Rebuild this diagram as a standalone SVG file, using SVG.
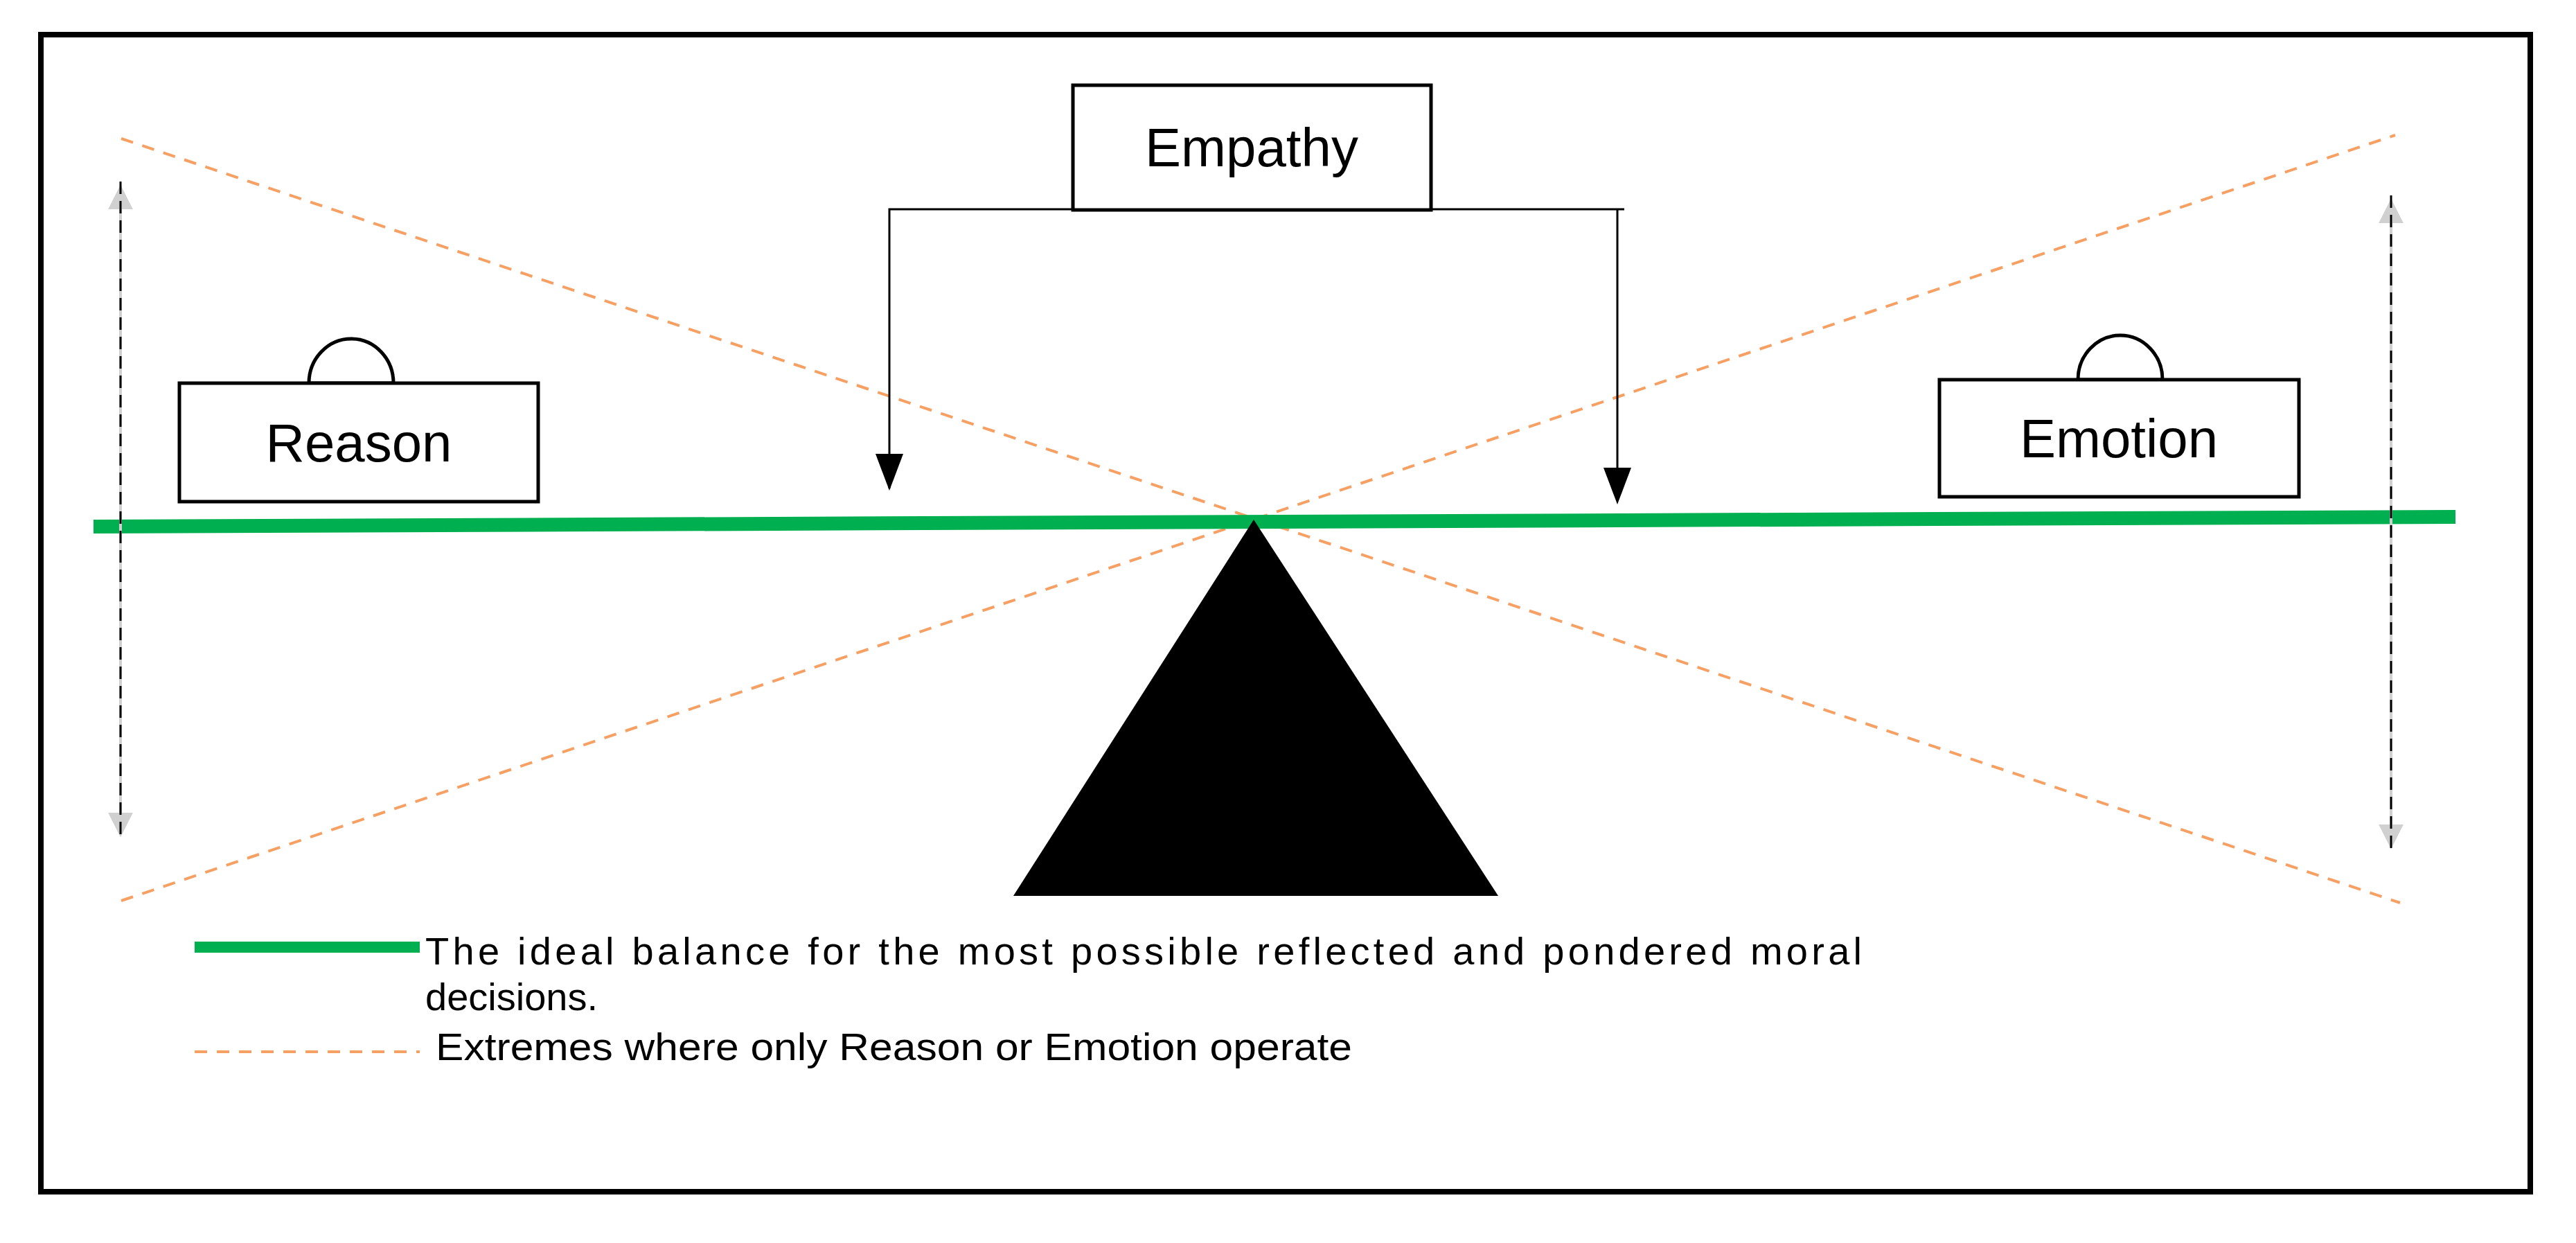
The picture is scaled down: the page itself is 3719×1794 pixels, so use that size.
<svg xmlns="http://www.w3.org/2000/svg" width="3719" height="1794" viewBox="0 0 3719 1794">
<style>
.box{fill:#fff;stroke:#000;stroke-width:5}
.lbl{font-family:"Liberation Sans",Arial,sans-serif;font-size:78px;fill:#000;text-anchor:middle}
.leg{font-family:"Liberation Sans",Arial,sans-serif;font-size:56px;fill:#000}
.ext{fill:none;stroke:#F7A064;stroke-width:4;stroke-dasharray:18 14}
.dome{fill:#fff;stroke:#000;stroke-width:5}
</style>
<defs>
<marker id="ah" viewBox="0 0 10 10" refX="9" refY="5" markerWidth="5" markerHeight="5" orient="auto" markerUnits="strokeWidth"><path d="M0,0L10,5L0,10z" fill="#000"/></marker>
<marker id="gh" viewBox="0 0 10 10" refX="9" refY="5" markerWidth="9" markerHeight="9" orient="auto-start-reverse" markerUnits="strokeWidth"><path d="M0,0L10,5L0,10z" fill="#D0D0D0"/></marker>
</defs>
<rect x="0" y="0" width="3719" height="1794" fill="#fff"/>
<rect x="59" y="50" width="3594" height="1670" fill="none" stroke="#000" stroke-width="8"/>
<g id="extremes">
<line class="ext" x1="175" y1="200" x2="3465" y2="1303"/>
<line class="ext" x1="175" y1="1300" x2="3458" y2="195"/>
</g>
<g id="ideal-line"><line x1="135" y1="760" x2="3545" y2="746" stroke="#00B050" stroke-width="20"/></g>
<g id="fulcrum"><polygon points="1810,750 1463,1293 2163,1293" fill="#000"/></g>
<g id="connectors">
<line x1="174" y1="270" x2="174" y2="1205" stroke="#D0D0D0" stroke-width="4" marker-start="url(#gh)" marker-end="url(#gh)"/>
<line x1="174" y1="262" x2="174" y2="1210" stroke="#000" stroke-width="3" stroke-dasharray="18 10"/>
<line x1="3452" y1="290" x2="3452" y2="1222" stroke="#D0D0D0" stroke-width="4" marker-start="url(#gh)" marker-end="url(#gh)"/>
<line x1="3452" y1="282" x2="3452" y2="1228" stroke="#000" stroke-width="3" stroke-dasharray="18 10"/>
<polyline points="1284,705 1284,302 2345,302" fill="none" stroke="#000" stroke-width="3"/>
<line x1="2335" y1="302" x2="2335" y2="700" stroke="#000" stroke-width="3"/>
<polygon points="1264,655 1304,655 1284,708" fill="#000"/>
<polygon points="2315,675 2355,675 2335,728" fill="#000"/>
</g>
<g id="empathy">
<rect class="box" x="1549" y="123" width="517" height="180"/>
<text class="lbl" x="1807" y="240">Empathy</text>
</g>
<g id="reason">
<path class="dome" d="M446,553 A61,64 0 0 1 568,553 Z"/>
<rect class="box" x="259" y="553" width="518" height="171"/>
<text class="lbl" x="518" y="666">Reason</text>
</g>
<g id="emotion">
<path class="dome" d="M3000,548 A61,64 0 0 1 3122,548 Z"/>
<rect class="box" x="2800" y="548" width="519" height="169"/>
<text class="lbl" x="3059" y="660">Emotion</text>
</g>
<g id="legend">
<line x1="281" y1="1367" x2="606" y2="1367" stroke="#00B050" stroke-width="16"/>
<text class="leg" x="614" y="1392" textLength="2074" lengthAdjust="spacing">The ideal balance for the most possible reflected and pondered moral</text>
<text class="leg" x="614" y="1458">decisions.</text>
<line x1="281" y1="1518" x2="606" y2="1518" stroke="#F7A064" stroke-width="4" stroke-dasharray="18 14"/>
<text class="leg" x="629" y="1530" textLength="1323" lengthAdjust="spacingAndGlyphs">Extremes where only Reason or Emotion operate</text>
</g>
</svg>
